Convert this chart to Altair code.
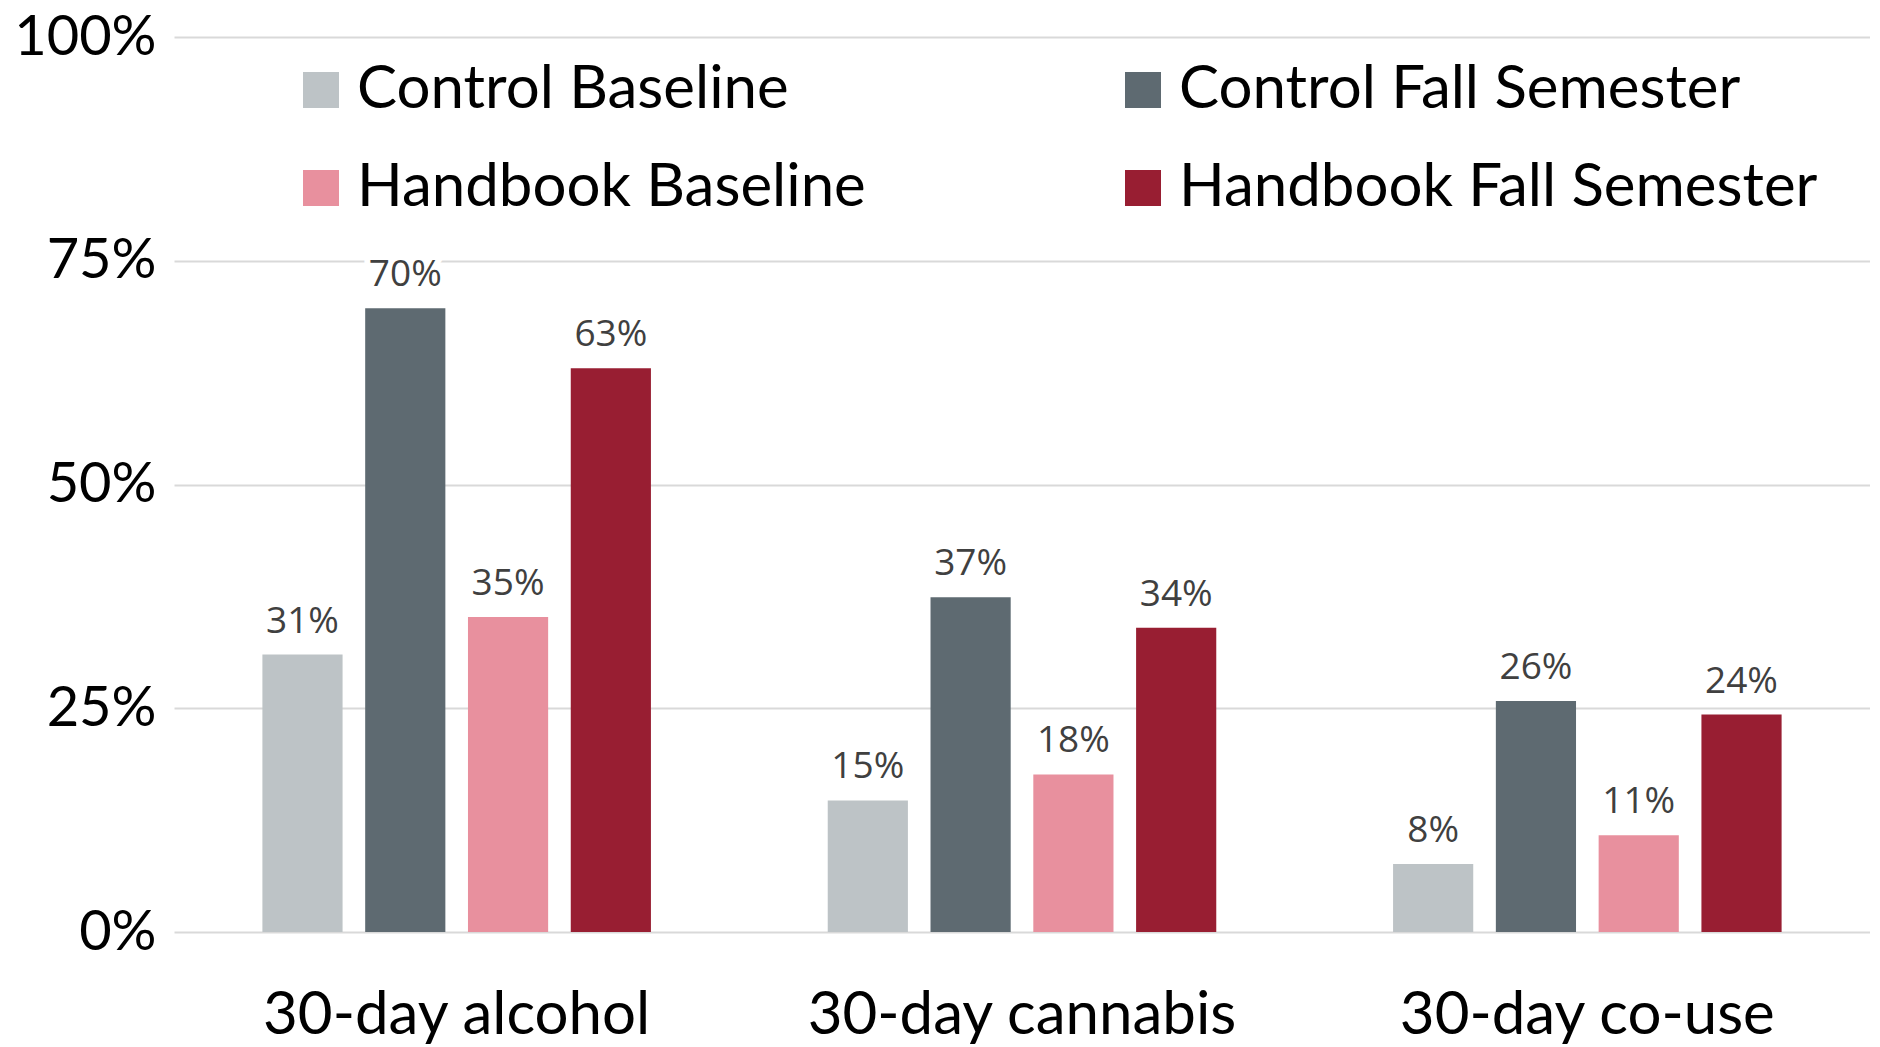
import altair as alt
import pandas as pd

categories = ["30-day alcohol", "30-day cannabis", "30-day co-use"]
series = ["Control Baseline", "Control Fall Semester", "Handbook Baseline", "Handbook Fall Semester"]
colors = ["#BDC3C6", "#5E6A71", "#E8909E", "#981E32"]
control_baseline = [0.310, 0.147, 0.076]
control_fall = [0.697, 0.374, 0.258]
handbook_baseline = [0.352, 0.176, 0.108]
handbook_fall = [0.630, 0.340, 0.243]
y_ticks = [0, 0.25, 0.5, 0.75, 1.0]

FONT = "Lato"
LABEL_FONT = "Open Sans"

rows = []
for s, vals in zip(series, [control_baseline, control_fall, handbook_baseline, handbook_fall]):
    for c, v in zip(categories, vals):
        rows.append({"category": c, "series": s, "value": v, "label": f"{round(v * 100)}%"})
df = pd.DataFrame(rows)

x = alt.X(
    "category:N",
    sort=categories,
    scale=alt.Scale(paddingInner=0, paddingOuter=0),
    axis=alt.Axis(
        title=None, labelAngle=0, ticks=False, domain=False,
        labelFont=FONT, labelFontSize=60, labelColor="#000000",
        labelPadding=101, labelBaseline="alphabetic", labelLimit=2000,
    ),
)
xo = alt.XOffset("series:N", sort=series, scale=alt.Scale(paddingInner=0.22, paddingOuter=0.86))
y = alt.Y(
    "value:Q",
    scale=alt.Scale(domain=[0, 1], nice=False),
    axis=alt.Axis(
        values=y_ticks, format=".0%", title=None, ticks=False, domain=False,
        labelFont=FONT, labelFontSize=56, labelColor="#000000", labelPadding=18,
        gridColor="#D9D9D9", gridWidth=2,
    ),
)
color = alt.Color(
    "series:N",
    sort=series,
    scale=alt.Scale(domain=series, range=colors),
    legend=alt.Legend(
        title=None, orient="none", legendX=117, legendY=23, columns=2,
        direction="horizontal",
        symbolType="square", symbolSize=1296, symbolStrokeWidth=0,
        labelFont=FONT, labelFontSize=60, labelColor="#000000", labelOffset=6,
        labelLimit=2000, columnPadding=247, rowPadding=38, padding=0,
    ),
)

base = alt.Chart(df)
bars = base.mark_bar().encode(x=x, xOffset=xo, y=y, color=color)
halo = base.mark_text(
    font=LABEL_FONT, fontSize=37, baseline="alphabetic", dy=-22,
    stroke="white", strokeWidth=12, color="white",
).encode(x=x, xOffset=xo, y=y, text="label:N")
labels = base.mark_text(
    font=LABEL_FONT, fontSize=37, baseline="alphabetic", dy=-22, color="#404040",
).encode(x=x, xOffset=xo, y=y, text="label:N")

chart = (
    alt.layer(bars, halo, labels)
    .properties(
        width=1696, height=895,
        autosize=alt.AutoSizeParams(type="none"),
        padding={"left": 166, "top": 29, "right": 0, "bottom": 118},
    )
    .configure_view(stroke=None)
)

chart.save("out.html", embed_options={"renderer": "svg", "actions": False})
